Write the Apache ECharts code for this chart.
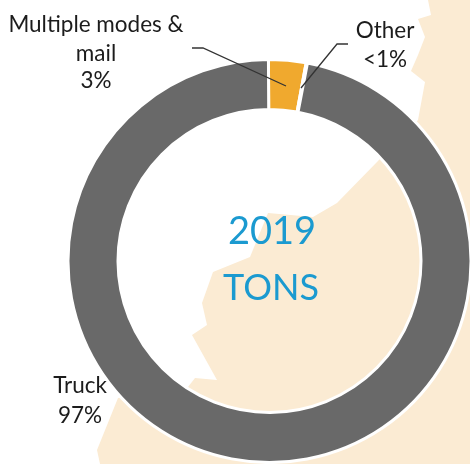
<!DOCTYPE html>
<html>
<head>
<meta charset="utf-8">
<style>html,body{margin:0;padding:0;background:#fff}#c{width:470px;height:464px}</style>
<script src="https://cdn.jsdelivr.net/npm/echarts@6/dist/echarts.min.js"></script>
</head>
<body>
<div id="c"></div>
<script>
// Freight mode share by weight, 2019
const modes = ['Multiple modes & mail', 'Other', 'Truck'];
const shares = [3, 0.1, 97];
const colors = ['#F0A92E', '#FFFFFF', '#696969'];
const centerLines = ['2019', 'TONS'];

// Land silhouette behind the ring
const landOutline = [[428,0],[431,15],[418,19],[425,37],[418,55],[411,71],[425,82],[418,120],
  [377,162],[337,203],[313,217],[268,213],[250,257],[213,272],[202,303],[207,325],[192,335],
  [217,380],[195,378],[188,387],[118,398],[97,450],[100,464],[470,464],[470,0]];

const chart = echarts.init(document.getElementById('c'), null, {renderer: 'canvas'});
const FONT = 'Lato, "Open Sans", sans-serif';

function caption(text, x, y, size, fill) {
  return {type: 'text', z: 10, style: {
    text, x, y, align: 'center', verticalAlign: 'middle',
    font: size + 'px ' + FONT, fill
  }};
}

chart.setOption({
  animation: false,
  backgroundColor: '#ffffff',
  graphic: [
    {type: 'polygon', z: -10, shape: {points: landOutline}, style: {fill: '#FBEBD3'}},
    caption('Multiple modes &', 96, 25, 22.5, '#1c1c1c'),
    caption('mail', 96, 54, 22.5, '#1c1c1c'),
    caption('3%', 96, 81, 22.5, '#1c1c1c'),
    caption('Other', 385, 31, 22.5, '#1c1c1c'),
    caption('<1%', 385, 60, 22.5, '#1c1c1c'),
    caption('Truck', 80, 386, 22.5, '#1c1c1c'),
    caption('97%', 80, 416, 22.5, '#1c1c1c'),
    caption(centerLines[0], 272, 232, 38, '#1B9AD0'),
    caption(centerLines[1], 271, 288, 36, '#1B9AD0'),
    {type: 'polyline', z: 10, shape: {points: [[192,48],[203,48],[286,86]]}, style: {stroke: '#333', lineWidth: 1.3, fill: 'none'}},
    {type: 'polyline', z: 10, shape: {points: [[348,44],[337,44],[301,88]]}, style: {stroke: '#333', lineWidth: 1.3, fill: 'none'}}
  ],
  series: [{
    type: 'pie',
    center: [269.5, 261],
    radius: [151.5, 201.5],
    startAngle: 90.3,
    clockwise: true,
    label: {show: false},
    labelLine: {show: false},
    itemStyle: {borderColor: '#fff', borderWidth: 3},
    data: modes.map((name, i) => ({name, value: shares[i], itemStyle: {color: colors[i]}}))
  }]
});
</script>
</body>
</html>
